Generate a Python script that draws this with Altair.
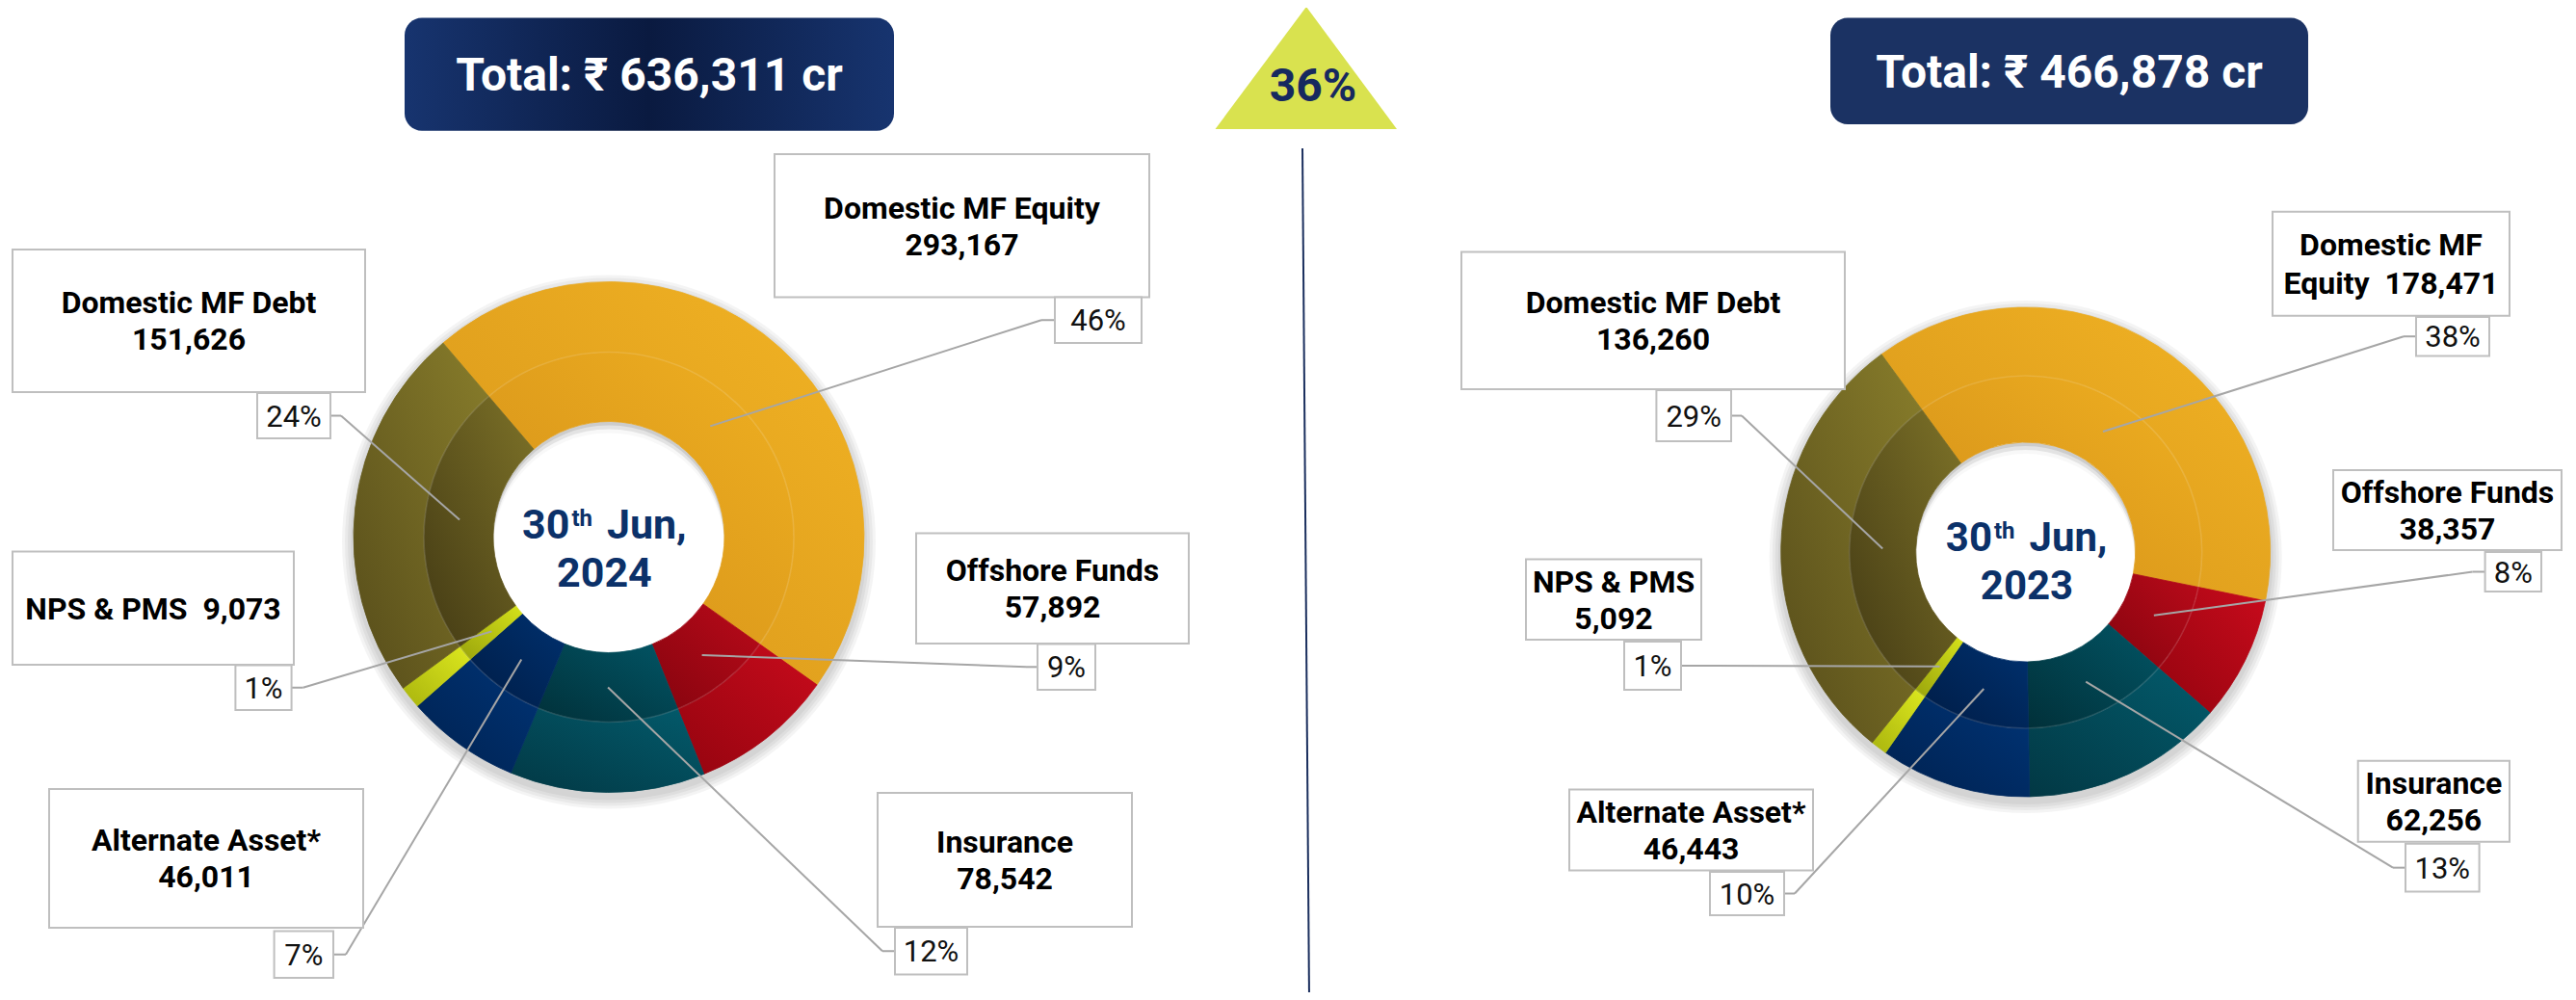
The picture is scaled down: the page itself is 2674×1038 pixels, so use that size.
import math
import altair as alt
import pandas as pd

# ---------------- data ----------------
categories = ["Domestic MF Equity", "Offshore Funds", "Insurance",
              "Alternate Asset*", "NPS & PMS", "Domestic MF Debt"]
values_2024 = [293167, 57892, 78542, 46011, 9073, 151626]
values_2023 = [178471, 38357, 62256, 46443, 5092, 136260]
panel_years = ["2024", "2023"]
total_labels = ["Total: \u20b9 636,311 cr", "Total: \u20b9 466,878 cr"]
growth_label = "36%"
date_day, date_sup, date_month = "30", "th", "Jun,"

# ---------------- layout / style ----------------
FONT = "Roboto"
W, H, M = 2658, 1022, 8
XS = alt.Scale(domain=[M, M + W], nice=False, zero=False)
YS = alt.Scale(domain=[M, M + H], nice=False, zero=False, reverse=True)


def X(f):
    return alt.X(f, type="quantitative", scale=XS, axis=None)


def Y(f):
    return alt.Y(f, type="quantitative", scale=YS, axis=None)


panels = {
    "2024": dict(cx=632, cy=557.5, r_hole=120, r_mid=192, r_out=265, start=-40.5,
                 leader_r=156, box=(420, 928, 18.5, 135.7), date_x=627.4,
                 date_y1=558.5, date_y2=609.4, date_size=43),
    "2023": dict(cx=2102.7, cy=573, r_hole=114, r_mid=183, r_out=254, start=-36.1,
                 leader_r=148.5, box=(1900, 2396, 18.5, 129), date_x=2104,
                 date_y1=571.6, date_y2=621.7, date_size=42),
}

label_layout = {
    "2024": {
        "Domestic MF Equity": dict(box=(804, 1193, 160, 308.5), mode="two", pct=(1095, 1185, 308.5, 356), side="L", elbow=14),
        "Offshore Funds": dict(box=(951, 1234, 553.4, 668), mode="two", pct=(1077, 1137, 668.6, 716), side="L", elbow=12),
        "Insurance": dict(box=(911, 1175, 823, 962), mode="two", pct=(929, 1004, 963, 1011.5), side="L", elbow=13),
        "Alternate Asset*": dict(box=(51, 377, 819, 963), mode="two", pct=(284.6, 346, 966.5, 1015), side="R", elbow=13),
        "NPS & PMS": dict(box=(13, 305, 572.6, 690), mode="one", pct=(244.4, 302.6, 690.5, 737), side="R", elbow=12),
        "Domestic MF Debt": dict(box=(13, 379, 259, 407), mode="two", pct=(267, 343, 408, 455), side="R", elbow=11),
    },
    "2023": {
        "Domestic MF Equity": dict(box=(2359, 2605, 219.8, 327.7), mode="split", pct=(2508, 2584, 329, 369.4), side="L", elbow=13),
        "Offshore Funds": dict(box=(2422, 2659, 488, 571), mode="two", pct=(2579.6, 2638, 573, 614), side="L", elbow=13),
        "Insurance": dict(box=(2447.7, 2605, 789.7, 873.8), mode="two", pct=(2497, 2573.6, 875.8, 925.5), side="L", elbow=13),
        "Alternate Asset*": dict(box=(1629, 1882, 819.5, 903.6), mode="two", pct=(1775, 1852, 905, 950), side="R", elbow=11),
        "NPS & PMS": dict(box=(1584, 1766, 580.6, 664), mode="two", pct=(1686, 1745, 666, 716), side="R", elbow=0),
        "Domestic MF Debt": dict(box=(1517, 1915, 261.5, 404), mode="two", pct=(1719.4, 1797, 405, 458), side="R", elbow=11),
    },
}

seg_colors = {
    "outer": {
        "Domestic MF Equity": ("#D6941A", "#F2B424"),
        "Offshore Funds": ("#94040F", "#C80B1C"),
        "Insurance": ("#023844", "#035B6C"),
        "Alternate Asset*": ("#00214F", "#003476"),
        "NPS & PMS": ("#A9B40E", "#DDE81E"),
        "Domestic MF Debt": ("#564C1A", "#887D2B"),
    },
    "inner": {
        "Domestic MF Equity": ("#D38F19", "#EFB021"),
        "Offshore Funds": ("#85040E", "#BA0A1A"),
        "Insurance": ("#013039", "#025565"),
        "Alternate Asset*": ("#001C45", "#00316F"),
        "NPS & PMS": ("#9AA40C", "#D5E11A"),
        "Domestic MF Debt": ("#433A14", "#7D7228"),
    },
}

LABEL_SIZE = 32
PCT_SIZE = 31
CAP = 0.711
BOX_STROKE = "#BFBFBF"
LEADER = "#A6A6A6"
NAVY_TEXT = "#0B3169"

# ---------------- tables built from the data ----------------
rows, line_rows = [], []
for year, vals in zip(panel_years, [values_2024, values_2023]):
    p = panels[year]
    for i, (cat, v) in enumerate(zip(categories, vals)):
        L = label_layout[year][cat]
        bx0, bx1, by0, by1 = L["box"]
        px0, px1, py0, py1 = L["pct"]
        ay = (py0 + py1) / 2
        ax = px0 if L["side"] == "L" else px1
        ex = ax - L["elbow"] if L["side"] == "L" else ax + L["elbow"]
        rows.append(dict(panel=year, cat=cat, value=v, order=i, cx=p["cx"], cy=p["cy"],
                         start=math.radians(p["start"]), lr=p["leader_r"],
                         bx0=bx0, bx1=bx1, by0=by0, by1=by1,
                         px0=px0, px1=px1, py0=py0, py1=py1,
                         ax=ax, ay=ay, ex=ex, ey=ay,
                         pcx=(px0 + px1) / 2, pby=ay + CAP * PCT_SIZE / 2))
        vs = f"{v:,}"
        if L["mode"] == "two":
            lines, lh = [cat, vs], 38
        elif L["mode"] == "one":
            lines, lh = [f"{cat} \u00a0{vs}"], 38
        else:
            w = cat.split(" ")
            lines, lh = [" ".join(w[:2]), f"{' '.join(w[2:])} \u00a0{vs}"], 40
        yc = (by0 + by1) / 2
        n = len(lines)
        for k, t in enumerate(lines):
            line_rows.append(dict(tx=(bx0 + bx1) / 2,
                                  ty=yc + CAP * LABEL_SIZE / 2 + (k - (n - 1) / 2) * lh,
                                  text=t))
seg = pd.DataFrame(rows)
lab_lines = pd.DataFrame(line_rows)

layers = []

# ---------------- titles ----------------
title_rows = []
for year, lbl in zip(panel_years, total_labels):
    x0, x1, y0, y1 = panels[year]["box"]
    title_rows.append(dict(panel=year, x0=x0, x1=x1, y0=y0, y1=y1, text=lbl,
                           tx=(x0 + x1) / 2, ty=(y0 + y1) / 2 + CAP * 48 / 2))
titles = pd.DataFrame(title_rows)
title_grad = alt.LinearGradient(
    gradient="linear",
    stops=[alt.GradientStop(color="#17346F", offset=0),
           alt.GradientStop(color="#0A1A40", offset=0.5),
           alt.GradientStop(color="#17346F", offset=1)],
    x1=0, y1=0, x2=1, y2=0)
layers.append(alt.Chart(titles).transform_filter(alt.datum.panel == "2024")
              .mark_rect(cornerRadius=18, fill=title_grad)
              .encode(x=X("x0"), x2="x1", y=Y("y0"), y2="y1"))
layers.append(alt.Chart(titles).transform_filter(alt.datum.panel == "2023")
              .mark_rect(cornerRadius=18, fill="#1B3263")
              .encode(x=X("x0"), x2="x1", y=Y("y0"), y2="y1"))
layers.append(alt.Chart(titles).mark_text(font=FONT, fontSize=48, fontWeight="bold",
                                          color="white", align="center", baseline="alphabetic")
              .encode(x=X("tx"), y=Y("ty"), text="text:N"))

# ---------------- growth triangle & divider ----------------
tri = pd.DataFrame(dict(x=[1261.5, 1356, 1450], y=[134, 7, 134], yb=[134, 134, 134]))
layers.append(alt.Chart(tri).mark_area(color="#D9E24F", opacity=1)
              .encode(x=X("x"), y=Y("y"), y2="yb"))
growth_df = pd.DataFrame([dict(x=1363, y=105, text=growth_label)])
layers.append(alt.Chart(growth_df).mark_text(font=FONT, fontSize=48, fontWeight="bold",
                                             color="#16295F", align="center", baseline="alphabetic")
              .encode(x=X("x"), y=Y("y"), text="text:N"))
divider = pd.DataFrame([dict(x=1352, y=154, x2=1359, y2=1038)])
layers.append(alt.Chart(divider).mark_rule(color="#1B2F5E", strokeWidth=2)
              .encode(x=X("x"), y=Y("y"), x2="x2", y2="y2"))

# ---------------- donuts ----------------
TWO_PI = 2 * math.pi
for year in panel_years:
    p = panels[year]
    one = pd.DataFrame([dict(cx=p["cx"], cy=p["cy"])])
    # outer drop shadow
    for k in (3, 6, 9, 12):
        layers.append(alt.Chart(one).transform_calculate(sy="datum.cy + 5")
                      .mark_arc(radius=p["r_out"] + k, radius2=p["r_mid"], theta=0, theta2=TWO_PI,
                                fill="black", opacity=0.045)
                      .encode(x=X("cx"), y=Y("sy")))
    # inner hole shadow
    layers.append(alt.Chart(one).mark_arc(radius=p["r_hole"], theta=0, theta2=TWO_PI,
                                          fill="black", opacity=0.2)
                  .encode(x=X("cx"), y=Y("cy")))
    for off, op in ((4, 0.45), (8, 0.75), (12, 1.0)):
        layers.append(alt.Chart(one).transform_calculate(sy=f"datum.cy + {off}")
                      .mark_arc(radius=p["r_hole"], theta=0, theta2=TWO_PI, fill="white", opacity=op)
                      .encode(x=X("cx"), y=Y("sy")))

    base = (alt.Chart(seg)
            .transform_filter(alt.datum.panel == year)
            .transform_joinaggregate(total="sum(value)")
            .transform_window(cum="sum(value)", sort=[alt.SortField("order")], frame=[None, 0])
            .transform_calculate(t0="datum.start + 2*PI*(datum.cum - datum.value)/datum.total")
            .transform_calculate(t1="datum.start + 2*PI*datum.cum/datum.total")
            .transform_calculate(tm="(datum.t0 + datum.t1)/2")
            .transform_calculate(lx="datum.cx + datum.lr*sin(datum.tm)")
            .transform_calculate(ly="datum.cy - datum.lr*cos(datum.tm)")
            .transform_calculate(pct="format(datum.value/datum.total, '.0%')"))

    for cat in categories:
        for ring in ("outer", "inner"):
            dark, light = seg_colors[ring][cat]
            grad = alt.LinearGradient(
                gradient="linear",
                stops=[alt.GradientStop(color=dark, offset=0),
                       alt.GradientStop(color=light, offset=1)],
                x1=0, y1=1, x2=1, y2=0)
            r1, r2 = (p["r_out"], p["r_mid"]) if ring == "outer" else (p["r_mid"], p["r_hole"])
            layers.append(base.transform_filter(alt.datum.cat == cat)
                          .mark_arc(radius=r1, radius2=r2, fill=grad, stroke=grad, strokeWidth=0.8)
                          .encode(x=X("cx"), y=Y("cy"),
                                  theta=alt.Theta("t0:Q", scale=None, stack=False),
                                  theta2="t1"))
    # subtle ring separator
    layers.append(alt.Chart(one).mark_arc(radius=p["r_mid"] + 0.8, radius2=p["r_mid"] - 0.8,
                                          theta=0, theta2=TWO_PI, fill="white", opacity=0.12)
                  .encode(x=X("cx"), y=Y("cy")))

    # leaders
    layers.append(base.mark_rule(color=LEADER, strokeWidth=2)
                  .encode(x=X("ex"), y=Y("ey"), x2="lx", y2="ly"))
    layers.append(base.mark_rule(color=LEADER, strokeWidth=2)
                  .encode(x=X("ax"), y=Y("ay"), x2="ex", y2="ey"))
    # label boxes
    layers.append(base.mark_rect(fill="white", stroke=BOX_STROKE, strokeWidth=2)
                  .encode(x=X("bx0"), x2="bx1", y=Y("by0"), y2="by1"))
    layers.append(base.mark_rect(fill="white", stroke=BOX_STROKE, strokeWidth=2)
                  .encode(x=X("px0"), x2="px1", y=Y("py0"), y2="py1"))
    layers.append(base.mark_text(font=FONT, fontSize=PCT_SIZE, color="#111111",
                                 align="center", baseline="alphabetic")
                  .encode(x=X("pcx"), y=Y("pby"), text="pct:N"))

    # centre date text
    ds = p["date_size"]
    dx = p["date_x"]
    date_df = pd.DataFrame([
        dict(x=dx - 36, y=p["date_y1"], text=date_day, part="day"),
        dict(x=dx + 2.5, y=p["date_y1"], text=date_month, part="month"),
        dict(x=dx, y=p["date_y2"], text=year, part="year"),
    ])
    sup_df = pd.DataFrame([dict(x=dx - 34, y=p["date_y1"] - 13, text=date_sup)])
    layers.append(alt.Chart(date_df).transform_filter(alt.datum.part == "day")
                  .mark_text(font=FONT, fontSize=ds, fontWeight="bold", color=NAVY_TEXT,
                             align="right", baseline="alphabetic")
                  .encode(x=X("x"), y=Y("y"), text="text:N"))
    layers.append(alt.Chart(date_df).transform_filter(alt.datum.part == "month")
                  .mark_text(font=FONT, fontSize=ds, fontWeight="bold", color=NAVY_TEXT,
                             align="left", baseline="alphabetic")
                  .encode(x=X("x"), y=Y("y"), text="text:N"))
    layers.append(alt.Chart(date_df).transform_filter(alt.datum.part == "year")
                  .mark_text(font=FONT, fontSize=ds, fontWeight="bold", color=NAVY_TEXT,
                             align="center", baseline="alphabetic")
                  .encode(x=X("x"), y=Y("y"), text="text:N"))
    layers.append(alt.Chart(sup_df)
                  .mark_text(font=FONT, fontSize=24, fontWeight="bold", color=NAVY_TEXT,
                             align="left", baseline="alphabetic")
                  .encode(x=X("x"), y=Y("y"), text="text:N"))

# label text lines
layers.append(alt.Chart(lab_lines).mark_text(font=FONT, fontSize=LABEL_SIZE, fontWeight="bold",
                                             color="black", align="center", baseline="alphabetic")
              .encode(x=X("tx"), y=Y("ty"), text="text:N"))

chart = (alt.layer(*layers)
         .properties(width=W, height=H, autosize="none", padding=0, background="white")
         .configure_view(stroke=None))

chart.save("out.html", embed_options={"renderer": "svg", "actions": False})
